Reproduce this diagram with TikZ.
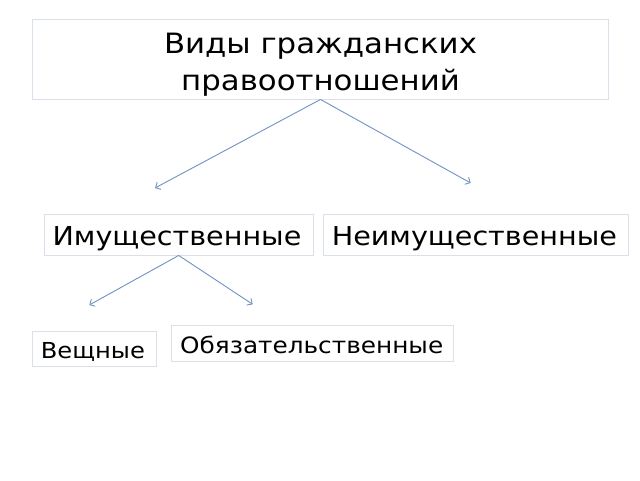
\documentclass[tikz,border=0pt]{standalone}
\usepackage{fontspec}
\setmainfont{DejaVu Sans}[FakeStretch=1.1]
\usetikzlibrary{arrows.meta}
\definecolor{boxline}{RGB}{218,224,234}
\definecolor{arrowline}{RGB}{112,146,196}
\tikzset{
	otnbox/.style={draw=boxline, line width=0.8pt, inner xsep=8.5pt, inner ysep=0pt, align=left},
	otnarrow/.style={draw=arrowline, line width=0.9pt, -{Straight Barb[length=4pt,width=8pt]}}
}

\begin{document}
\begin{tikzpicture}[x=1pt, y=-1pt]
			%%%%% START %%%%%
			
			\useasboundingbox[fill=white] (0, 0) rectangle (640, 480);
			
			\node[otnbox, align=center, minimum width=575.6pt, minimum height=79.7pt, text height=64pt, text depth=2.4pt, font=\fontsize{28}{37}\selectfont] (vidy) at (320.5, 59.2) {Виды гражданских\\правоотношений};
			
			\node[otnbox, text width=252.3pt, minimum height=40.7pt, text height=24pt, text depth=2pt, font=\fontsize{26}{30}\selectfont] (imush) at (178.7, 234.7) {Имущественные};
			\node[otnbox, text width=288pt, minimum height=40.7pt, text height=24pt, text depth=2pt, font=\fontsize{26}{30}\selectfont] (neimush) at (475.8, 234.7) {Неимущественные};
			
			\node[otnbox, text width=107.4pt, minimum height=35pt, text height=21pt, text depth=1.4pt, font=\fontsize{22}{26}\selectfont] (veshch) at (94.5, 348.5) {Вещные};
			\node[otnbox, text width=264.6pt, minimum height=36.7pt, text height=21pt, text depth=1pt, font=\fontsize{22.5}{26}\selectfont] (obyaz) at (312.5, 343.3) {Обязательственные};
			
			\coordinate (imushtip) at (155, 188);
			\coordinate (neimushtip) at (470.7, 183);
			\coordinate (veshchtip) at (89.3, 305);
			\coordinate (obyaztip) at (252.7, 304.3);
			
			\draw[otnarrow] (vidy.south) -- (imushtip);
			\draw[otnarrow] (vidy.south) -- (neimushtip);
			\draw[otnarrow] (imush.south) -- (veshchtip);
			\draw[otnarrow] (imush.south) -- (obyaztip);
			
			%%%%% END %%%%%
		\end{tikzpicture}
\end{document}
